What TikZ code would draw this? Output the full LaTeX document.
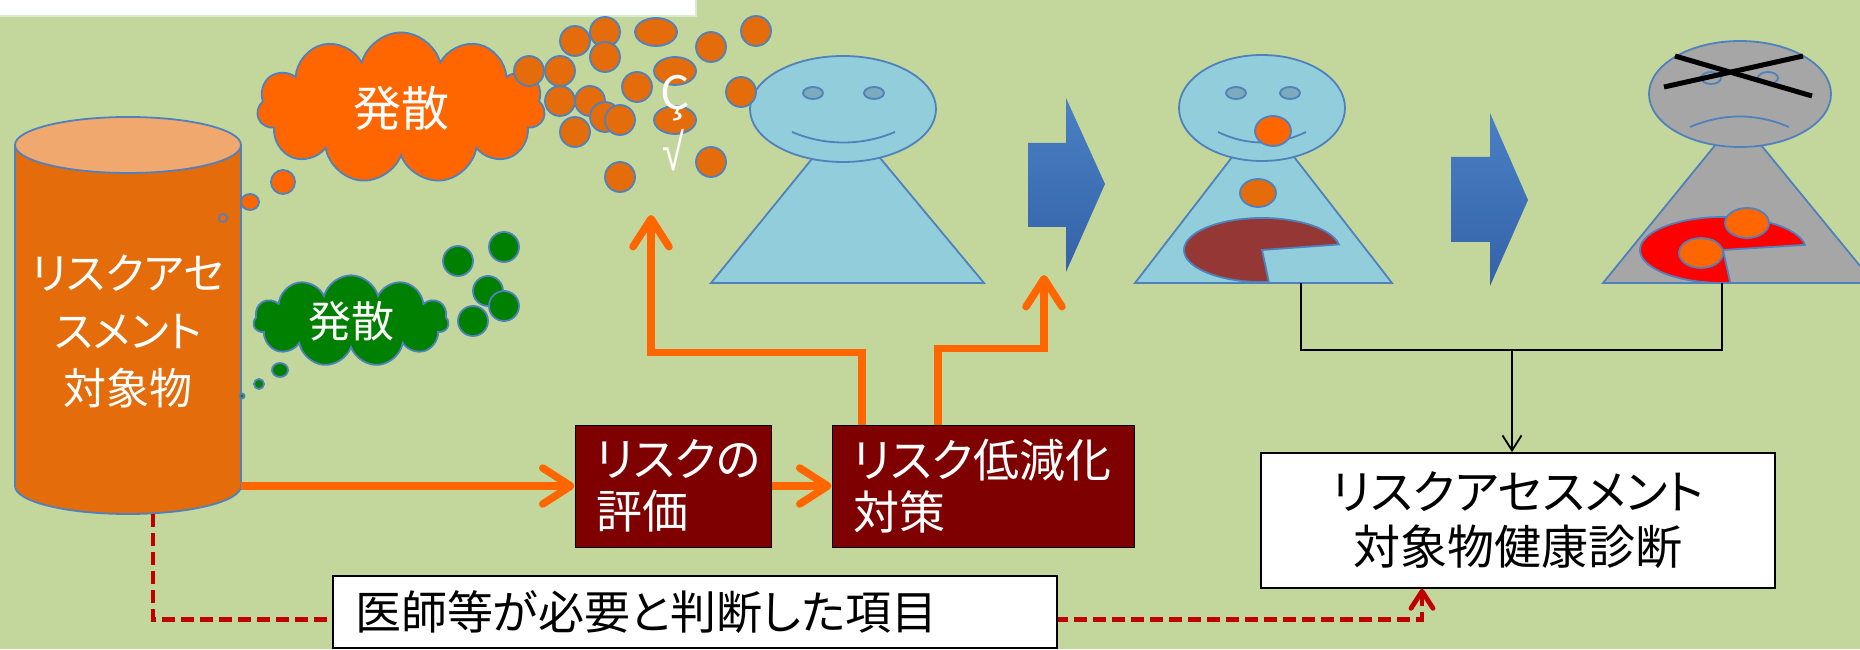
\documentclass[tikz,border=0pt]{standalone}
\usepackage{xcolor}
\usepackage{fontspec}
\setmainfont{Noto Sans CJK JP}[RawFeature=+palt]
\newfontfamily\symfont{Liberation Sans}
\usepackage{tikz}
\usetikzlibrary{shapes.symbols, arrows.meta, positioning, calc}
\definecolor{bggreen}{RGB}{195,214,155}
\definecolor{stripgreen}{RGB}{214,238,206}
\definecolor{figblue}{RGB}{146,205,220}
\definecolor{lineblue}{RGB}{79,129,189}
\definecolor{eyeblue}{RGB}{125,170,188}
\definecolor{dotorange}{RGB}{228,108,10}
\definecolor{brightorange}{RGB}{255,102,0}
\definecolor{cyltop}{RGB}{240,168,110}
\definecolor{leafgreen}{RGB}{0,128,0}
\definecolor{figgrey}{RGB}{166,166,166}
\definecolor{boxred}{RGB}{127,0,0}
\definecolor{dashred}{RGB}{192,0,0}
\definecolor{stainbrown}{RGB}{149,55,53}
\definecolor{arrowtop}{RGB}{74,128,196}
\definecolor{arrowbot}{RGB}{52,98,168}
\tikzset{
  redbox/.style={rectangle, draw=black, fill=boxred, text=white,
    align=left, minimum height=122pt, inner xsep=21pt,
    font=\fontsize{46}{52}\selectfont, line width=1pt},
  whitebox/.style={rectangle, draw=black, fill=white, line width=1.8pt},
  puff/.style={cloud, cloud puffs=11, cloud ignores aspect,
    draw=lineblue, line width=1.8pt, text=white},
  figline/.style={draw=lineblue, line width=1.8pt},
  dot/.style={figline, fill=dotorange},
  flow/.style={draw=brightorange, line width=7.5pt,
    -{Straight Barb[length=28pt, width=36pt, round]}},
  link/.style={draw=black, line width=1.8pt},
  needed/.style={draw=dashred, line width=4.8pt, dash pattern=on 13pt off 6pt,
    -{Straight Barb[length=17pt, width=22pt, round]}}
}

\begin{document}
\begin{tikzpicture}[x=1pt, y=1pt]
  \useasboundingbox (0,0) rectangle (1860,649);
  \clip (0,0) rectangle (1860,649);
  \fill[bggreen] (0,0) rectangle (1860,649);
  \fill[white] (0,633) rectangle (696,649);
  \draw[stripgreen, line width=2pt] (0,633) -- (696,633) -- (696,649);

  % Target substance (cylinder)
  \fill[dotorange] (15,504) -- (15,163) arc[start angle=180, end angle=360, x radius=113, y radius=28] -- (241,504) -- cycle;
  \draw[figline] (15,504) -- (15,163) arc[start angle=180, end angle=360, x radius=113, y radius=28] -- (241,504);
  \draw[figline, fill=cyltop] (128,504) ellipse (113 and 28);
  \node[minimum width=226pt, minimum height=397pt] (obj) at (128,333.5) {};
  \node[text=white, align=center, font=\fontsize{43}{57.5}\selectfont] (objname) at (128,317.5) {リスクアセ\\スメント\\対象物};

  % Vapour clouds
  \node[puff, fill=brightorange, minimum width=288pt, minimum height=151pt,
    font=\fontsize{48}{52}\selectfont] (spread1) at (401,541) {発散};
  \draw[figline, fill=brightorange] (283,467) circle (12);
  \draw[figline, fill=brightorange] (250,447) ellipse (9 and 8);
  \draw[figline, fill=brightorange] (223,431) circle (4);
  \node[puff, fill=leafgreen, minimum width=195pt, minimum height=88pt,
    font=\fontsize{43}{46}\selectfont] (spread2) at (351,328) {発散};
  \draw[figline, fill=leafgreen] (280,279) ellipse (8 and 7);
  \draw[figline, fill=leafgreen] (259,265) circle (5);
  \draw[figline, fill=leafgreen] (242,253) circle (2.5);
  \foreach \x/\y in {504/402, 458/388, 488/358, 504/343, 473/328}
    \draw[figline, fill=leafgreen] (\x,\y) circle (15);

  % Healthy worker
  \draw[figline, fill=figblue] (711,366) -- (846,532) -- (984,366) -- cycle;
  \draw[figline, fill=figblue] (843,540) ellipse (93 and 53);
  \draw[figline, fill=eyeblue] (813,556) ellipse (10 and 6);
  \draw[figline, fill=eyeblue] (874,556) ellipse (10 and 6);
  \draw[figline] (792,517) .. controls (825,503) and (862,503) .. (895,517);

  % Droplets in the air
  \foreach \x/\y in {575/608, 605/617, 605/592, 711/602, 756/618, 529/578, 560/578,
      637/562, 741/557, 560/548, 590/548, 605/532, 620/529, 575/517, 711/487, 620/472}
    \draw[dot] (\x,\y) circle (15);
  \foreach \x/\y in {656/617, 675/578, 675/529}
    \draw[dot] (\x,\y) ellipse (21 and 14);
  \node[text=white, anchor=base, font=\fontsize{46}{50}\selectfont] (cmark) at (675,539) {Ç};
  \node[text=white, font=\symfont\fontsize{40}{44}\selectfont] (root) at (673,499) {\scalebox{1}[1.3]{√}};

  % Exposed worker
  \draw[figline, fill=figblue] (1135,366) -- (1263,532) -- (1392,366) -- cycle;
  \draw[figline, fill=stainbrown] (1262,399) -- ++(10:78 and 32) arc[start angle=10, end angle=275, x radius=78, y radius=32] -- cycle;
  \draw[dot] (1258,456) ellipse (18 and 14);
  \draw[figline, fill=figblue] (1262,541) ellipse (83 and 53);
  \draw[figline, fill=eyeblue] (1236,556) ellipse (10 and 6);
  \draw[figline, fill=eyeblue] (1290,556) ellipse (10 and 6);
  \draw[figline] (1218,517) .. controls (1247,503) and (1277,503) .. (1306,517);
  \draw[figline, fill=brightorange] (1273,518) ellipse (18 and 15);

  % Sick worker
  \draw[figline, fill=figgrey] (1603,366) -- (1738,532) -- (1874,366) -- cycle;
  \draw[figline, fill=red] (1723,399) -- ++(9:83 and 33) arc[start angle=9, end angle=275, x radius=83, y radius=33] -- cycle;
  \draw[figline, fill=brightorange] (1747,426) ellipse (22 and 15);
  \draw[figline, fill=brightorange] (1701,396) ellipse (22 and 15);
  \draw[figline, fill=figgrey] (1740,555) ellipse (91 and 53);
  \draw[figline] (1711,571) ellipse (10 and 6);
  \draw[figline] (1768,571) ellipse (10 and 6);
  \draw[figline] (1690,522) .. controls (1723,536) and (1756,536) .. (1789,522);
  \draw[line width=5pt] (1675,593) -- (1812,553);
  \draw[line width=5pt] (1664,562) -- (1803,593);

  % Block arrows between the workers
  \shade[top color=arrowtop, bottom color=arrowbot] (1028,422) -- (1028,506) -- (1066,506) -- (1066,551) -- (1105,465) -- (1066,377) -- (1066,422) -- cycle;
  \shade[top color=arrowtop, bottom color=arrowbot] (1451,407) -- (1451,492) -- (1490,492) -- (1490,536) -- (1528,449) -- (1490,363) -- (1490,407) -- cycle;

  % Assessment steps
  \node[redbox, text width=154pt] (eval) at (673,163) {リスクの\\評価};
  \node[redbox, text width=260pt] (meas) at (983,163) {リスク低減化\\対策};
  \node[whitebox, minimum width=514pt, minimum height=135pt, align=center,
    font=\fontsize{47}{55}\selectfont] (diag) at (1518,128.5) {リスクアセスメント\\対象物健康診断};

  \coordinate (hazard) at (651,434);
  \coordinate (figtwo) at (1044,374);
  \coordinate (base2) at (1301,366);
  \coordinate (base3) at (1722,366);
  \coordinate (join) at (1512,299);

  \draw[flow] (obj.east |- eval.west) -- (eval.west);
  \draw[flow] (eval.east) -- (meas.west);
  \draw[flow] ([xshift=-121pt]meas.north) -- ++(0,72) -| (hazard);
  \draw[flow] ([xshift=-45pt]meas.north) -- ++(0,76) -| (figtwo);

  \draw[link] (base2) |- (join) -| (base3);
  \draw[link, -{Straight Barb[length=15pt, width=19pt]}] (join) -- (join |- diag.north);

  \draw[needed] ([xshift=25pt]obj.south) -- ++(0,-105) -| ([xshift=-96pt]diag.south);
  \node[whitebox, text width=680pt, inner xsep=22pt, minimum height=72pt, align=left,
    font=\fontsize{46}{50}\selectfont] (doc) at (695,37) {医師等が必要と判断した項目};
\end{tikzpicture}
\end{document}
